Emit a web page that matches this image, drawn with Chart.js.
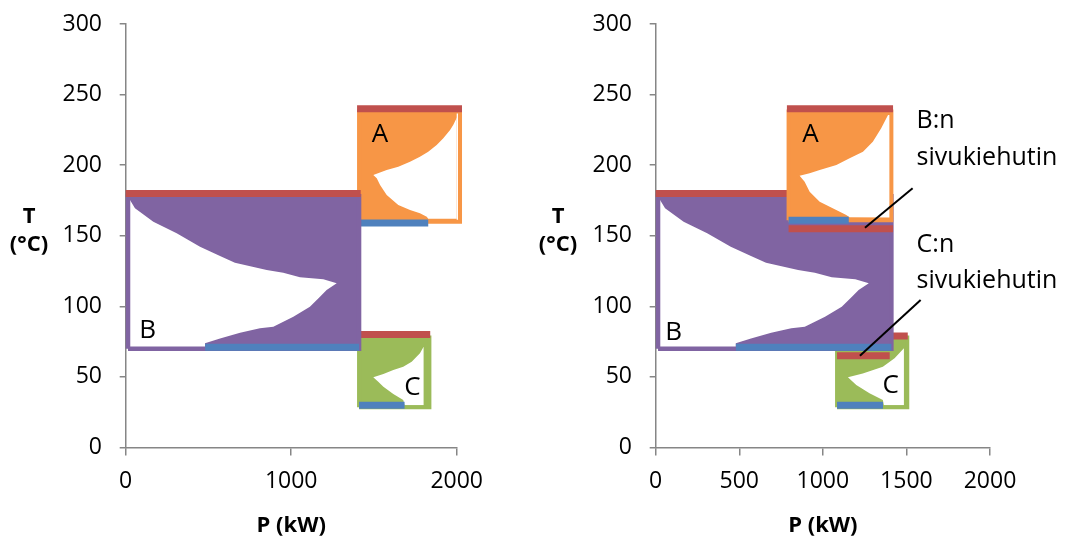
<!DOCTYPE html>
<html>
<head>
<meta charset="utf-8">
<script src="https://cdn.jsdelivr.net/npm/chart.js@4"></script>
<style>
  html, body { margin: 0; padding: 0; background: #fff; overflow: hidden; }
  #wrap { position: relative; width: 1067px; height: 539px; }
  canvas { position: absolute; top: 0; display: block; }
  #left { left: 0; }
  #right { left: 530px; }
</style>
</head>
<body>
<div id="wrap">
  <canvas id="left" width="530" height="539"></canvas>
  <canvas id="right" width="537" height="539"></canvas>
</div>
<script>
// ---------- axes ----------
const yTickValues = [0, 50, 100, 150, 200, 250, 300];
const xTickValuesLeft = [0, 1000, 2000];
const xTickValuesRight = [0, 500, 1000, 1500, 2000];

// ---------- exchanger B (same in both layouts) ----------
const bBoxP = [14, 1410];
const bBoxT = [70, 178];
const bHoleP = [14, 26, 56, 167, 308, 449, 570, 660, 852, 952, 1053, 1194, 1275, 1214, 1174, 1113, 1013, 892, 811, 691, 570, 479, 479, 14];
const bHoleT = [177, 175.3, 169.4, 160, 151.7, 142.2, 135.6, 130.9, 125.7, 123.8, 120.6, 119.1, 116.3, 111.6, 106.8, 99.7, 92.7, 85.6, 84.4, 81.3, 77.3, 73.8, 70, 70];
const bColdP = [480, 1410];
const bColdT = 71;
const bHotT = 180;
const bHotLeftP = [0, 1420];
const bHotRightP = [0, 795];
// B side reboiler (right layout)
const bSideP = [795, 1420];
const bSideT = 155;

// ---------- exchanger A ----------
const aHotT = 240;
const aBoxLeftP = [1410, 2020];
const aBoxLeftT = [160, 238];
const aHoleLeftP = [2020, 2003, 1979, 1960, 1919, 1879, 1828, 1778, 1718, 1647, 1577, 1496, 1517, 1537, 1577, 1647, 1718, 1778, 1819, 1828, 2020];
const aHoleLeftT = [234.3, 234.3, 228.4, 224.9, 219, 214.3, 209.5, 206, 202.5, 198.9, 196.6, 193, 190.7, 186, 178.9, 171.8, 168.2, 165.9, 163.5, 162, 162];
const aHotLeftP = [1398, 2032];
const aColdLeftP = [1410, 1828];
const aColdLeftT = 159;

const aBoxRightP = [795, 1410];
const aBoxRightT = [161, 238];
const aHoleRightP = [1410, 1390, 1349, 1299, 1240, 1160, 1081, 981, 921, 861, 891, 921, 981, 1041, 1140, 1160, 1410];
const aHoleRightT = [235.5, 235.5, 226.1, 216.6, 209.5, 204.9, 200.1, 196.6, 194.2, 192.5, 188.3, 181.2, 174.1, 170.6, 164.7, 163.1, 163];
const aHotRightP = [785, 1420];
const aColdRightP = [795, 1155];
const aColdRightT = 161;

// ---------- exchanger C ----------
const cBoxT = [28.5, 78];
const cColdT = 30;
const cBoxLeftP = [1410, 1835];
const cHoleLeftP = [1800, 1778, 1728, 1677, 1617, 1557, 1496, 1526, 1557, 1617, 1677, 1685, 1800];
const cHoleLeftT = [71.4, 66.7, 60.8, 57.2, 54.9, 52.1, 49.7, 46.6, 43.1, 37.9, 33.6, 30, 30];
const cHotLeftP = [1410, 1840];
const cHotLeftT = 80;
const cColdLeftP = [1410, 1685];

const cBoxRightP = [1085, 1505];
const cHoleRightP = [1485, 1429, 1359, 1239, 1150, 1200, 1279, 1359, 1365, 1485];
const cHoleRightT = [70.3, 63.2, 57.2, 52.5, 49.7, 44.3, 38.4, 33.6, 30, 30];
const cHotRightP = [1085, 1508];
const cHotRightT = 79;
const cColdRightP = [1085, 1360];
// C side reboiler (right layout)
const cSideP = [1085, 1400];
const cSideT = 65;

// ---------- callouts and labels ----------
const bNoteLineP = [1252, 1537];
const bNoteLineT = [155.7, 183.6];
const cNoteLineP = [1222, 1585];
const cNoteLineT = [65, 104.5];

const boxLabelText = ['A', 'B', 'C'];
const boxLabelLeftP = [1537, 132, 1733];
const boxLabelLeftT = [216.6, 77.4, 37.2];
const boxLabelRightP = [926, 108, 1406];
const boxLabelRightT = [216.6, 76.1, 38.4];

const noteText = ['B:n', 'sivukiehutin', 'C:n', 'sivukiehutin'];
const noteP = [1561, 1561, 1561, 1561];
const noteT = [226.0, 200.1, 138.7, 112.8];

// ---------- colours ----------
const GRAY = '#868686';
const PURPLE = '#8064A2';
const ORANGE = '#F79646';
const GREEN = '#9BBB59';
const RED = '#C0504D';
const BLUE = '#4F81BD';
const FONT = '"Open Sans", "Liberation Sans", sans-serif';

// ---------- helpers that turn values into point lists ----------
const pts = (P, T) => P.map((p, i) => ({ x: p, y: T[i] }));
const rect = (P, T) => pts([P[0], P[1], P[1], P[0], P[0]], [T[0], T[0], T[1], T[1], T[0]]);
const bar = (P, t) => pts(P, [t, t]);

const area = (data, color) => ({ data, fill: 'shape', backgroundColor: color, borderColor: 'transparent', borderWidth: 0 });
const stroke = (data, color, w) => ({ data, fill: false, backgroundColor: 'transparent', borderColor: color, borderWidth: w });

function exchanger(boxP, boxT, holeP, holeT, color, frameW, coldP, coldT, hotP, hotT) {
  return [
    area(rect(boxP, boxT), color),
    area(pts(holeP, holeT), '#ffffff'),
    stroke(rect(boxP, boxT), color, frameW),
    stroke(bar(coldP, coldT), BLUE, 7),
    stroke(bar(hotP, hotT), RED, 7)
  ];
}

// texts drawn on top of the plot
const panelText = {
  id: 'panelText',
  afterDraw(chart, args, o) {
    const { ctx } = chart;
    const xs = chart.scales.x, ys = chart.scales.y;
    ctx.save();
    ctx.fillStyle = '#000';
    ctx.textBaseline = 'alphabetic';
    ctx.textAlign = 'center';
    ctx.font = 'bold 22px ' + FONT;
    ctx.fillText('T', o.titleX, o.titleY[0]);
    ctx.fillText('(°C)', o.titleX, o.titleY[1]);
    ctx.font = '26px ' + FONT;
    o.boxText.forEach((t, i) => ctx.fillText(t, xs.getPixelForValue(o.boxP[i]), ys.getPixelForValue(o.boxT[i])));
    if (o.noteText) {
      ctx.textAlign = 'left';
      ctx.font = '25px ' + FONT;
      o.noteText.forEach((t, i) => ctx.fillText(t, xs.getPixelForValue(o.noteP[i]), ys.getPixelForValue(o.noteT[i])));
    }
    ctx.restore();
  }
};

function makeChart(id, layers, xTicks, padRight, textOpts) {
  const n = layers.length;
  const datasets = layers.map((d, i) => Object.assign({
    pointRadius: 0, pointHoverRadius: 0, tension: 0, clip: false,
    borderCapStyle: 'butt', borderJoinStyle: 'miter', order: n - i
  }, d));
  const tickFont = { family: FONT, size: 23 };
  return new Chart(document.getElementById(id), {
    type: 'line',
    data: { datasets },
    options: {
      responsive: false,
      animation: false,
      devicePixelRatio: 1,
      events: [],
      layout: { padding: { left: 0, right: padRight, top: 24, bottom: 0 } },
      plugins: { legend: { display: false }, tooltip: { enabled: false }, panelText: textOpts },
      scales: {
        x: {
          type: 'linear', min: 0, max: 2000,
          afterBuildTicks: s => { s.ticks = xTicks.map(v => ({ value: v })); },
          afterFit: s => { s.height = 91.5; },
          grid: { drawOnChartArea: false, drawTicks: true, tickLength: 8, color: GRAY, lineWidth: 1.5 },
          border: { display: true, color: GRAY, width: 1.5 },
          ticks: { font: tickFont, color: '#000', padding: 12, maxRotation: 0, autoSkip: false, callback: v => String(v) },
          title: { display: true, text: 'P (kW)', color: '#000', font: { family: FONT, size: 22, weight: 'bold' }, padding: { top: 0, bottom: 0 } }
        },
        y: {
          type: 'linear', min: 0, max: 300,
          afterBuildTicks: s => { s.ticks = yTickValues.map(v => ({ value: v })); },
          afterFit: s => { s.width = 125.7; s.paddingTop = 0; s.paddingBottom = 0; },
          grid: { drawOnChartArea: false, drawTicks: true, tickLength: 6, color: GRAY, lineWidth: 1.5 },
          border: { display: true, color: GRAY, width: 1.5 },
          ticks: { font: tickFont, color: '#000', padding: 17.7, autoSkip: false, callback: v => String(v) }
        }
      }
    },
    plugins: [panelText]
  });
}

// left layout: exchangers in series (bottom layer first)
const leftLayers = [
  ...exchanger(aBoxLeftP, aBoxLeftT, aHoleLeftP, aHoleLeftT, ORANGE, 4, aColdLeftP, aColdLeftT, aHotLeftP, aHotT),
  ...exchanger(cBoxLeftP, cBoxT, cHoleLeftP, cHoleLeftT, GREEN, 4, cColdLeftP, cColdT, cHotLeftP, cHotLeftT),
  ...exchanger(bBoxP, bBoxT, bHoleP, bHoleT, PURPLE, 4.5, bColdP, bColdT, bHotLeftP, bHotT)
];

// right layout: with side reboilers
const rightLayers = [
  ...exchanger(cBoxRightP, cBoxT, cHoleRightP, cHoleRightT, GREEN, 4, cColdRightP, cColdT, cHotRightP, cHotRightT),
  ...exchanger(bBoxP, bBoxT, bHoleP, bHoleT, PURPLE, 4.5, bColdP, bColdT, bHotRightP, bHotT),
  ...exchanger(aBoxRightP, aBoxRightT, aHoleRightP, aHoleRightT, ORANGE, 4, aColdRightP, aColdRightT, aHotRightP, aHotT),
  stroke(bar(bSideP, bSideT), RED, 7),
  stroke(bar(cSideP, cSideT), RED, 7),
  stroke(pts(bNoteLineP, bNoteLineT), '#000', 2),
  stroke(pts(cNoteLineP, cNoteLineT), '#000', 2)
];

makeChart('left', leftLayers, xTickValuesLeft, 73.3, {
  titleX: 29, titleY: [223, 251],
  boxText: boxLabelText, boxP: boxLabelLeftP, boxT: boxLabelLeftT
});
makeChart('right', rightLayers, xTickValuesRight, 77, {
  titleX: 28, titleY: [223, 251],
  boxText: boxLabelText, boxP: boxLabelRightP, boxT: boxLabelRightT,
  noteText: noteText, noteP: noteP, noteT: noteT
});
</script>
</body>
</html>
